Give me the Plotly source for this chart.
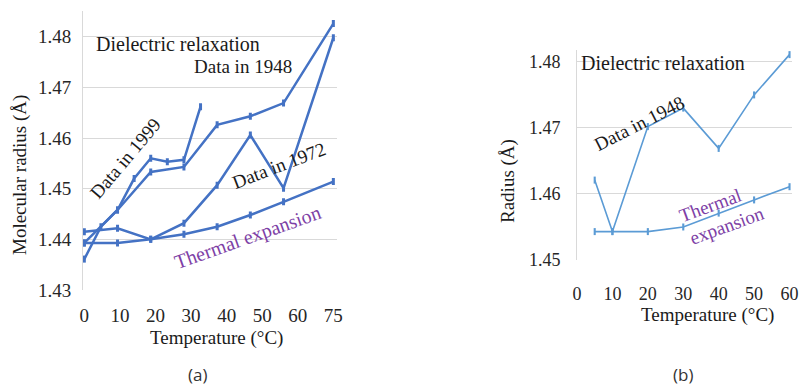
import plotly.graph_objects as go

# ---- Panel (a): molecular radius vs temperature ----
temp_a_labels = ["0", "10", "20", "30", "40", "50", "60", "75"]
t_1948_a = [0, 10, 20, 30, 40, 50, 60, 75]
r_1948_a = [1.4393, 1.4458, 1.4533, 1.4543, 1.4626, 1.4643, 1.4669, 1.4826]
t_1999_a = [0, 5, 10, 15, 20, 25, 30, 35]
r_1999_a = [1.4361, 1.4425, 1.4458, 1.4520, 1.4560, 1.4553, 1.4557, 1.4662]
t_1972_a = [0, 10, 20, 30, 40, 50, 60, 75]
r_1972_a = [1.4415, 1.4422, 1.4400, 1.4432, 1.4507, 1.4606, 1.4501, 1.4798]
t_therm_a = [0, 10, 20, 30, 40, 50, 60, 75]
r_therm_a = [1.4393, 1.4393, 1.4400, 1.4410, 1.4425, 1.4448, 1.4474, 1.4514]
y_ticks_a = [1.43, 1.44, 1.45, 1.46, 1.47, 1.48]

# ---- Panel (b): radius vs temperature ----
temp_b_ticks = [0, 10, 20, 30, 40, 50, 60]
t_1948_b = [5, 10, 20, 30, 40, 50, 60]
r_1948_b = [1.4621, 1.4543, 1.4702, 1.4730, 1.4669, 1.4750, 1.4811]
t_therm_b = [5, 10, 20, 30, 40, 50, 60]
r_therm_b = [1.4543, 1.4543, 1.4543, 1.4550, 1.4571, 1.4591, 1.4611]
y_ticks_b = [1.45, 1.46, 1.47, 1.48]

BLUE_A = "#4472C4"
BLUE_B = "#5B9BD5"
PURPLE = "#7E3FA6"
SERIF = "Liberation Serif"
GRID = "#D9D9D9"

fig = go.Figure()


def add_series(x, y, color, width, xa, ya):
    fig.add_trace(go.Scatter(
        x=x, y=y, mode="lines+markers", xaxis=xa, yaxis=ya,
        line=dict(color=color, width=width),
        marker=dict(symbol="line-ns", size=5,
                    line=dict(color=color, width=width + 0.5)),
        showlegend=False, hoverinfo="x+y",
    ))


for xs, ys in [(t_1948_a, r_1948_a), (t_1999_a, r_1999_a),
               (t_1972_a, r_1972_a), (t_therm_a, r_therm_a)]:
    add_series(xs, ys, BLUE_A, 2.5, "x", "y")

for xs, ys in [(t_1948_b, r_1948_b), (t_therm_b, r_therm_b)]:
    add_series(xs, ys, BLUE_B, 1.6, "x2", "y2")

# evenly spaced temperature labels along the (a) axis
n_a = len(temp_a_labels)
tickpos_a = [i * 75 / (n_a - 1) for i in range(n_a)]

W, H = 801, 387


def px(xp):
    return xp / W


def py(yp):
    return 1 - yp / H


tick_font_a = dict(family=SERIF, size=19, color="#262626")
tick_font_b = dict(family=SERIF, size=18, color="#262626")

fig.update_layout(
    width=W, height=H, autosize=False,
    margin=dict(l=0, r=0, t=0, b=0, pad=0),
    paper_bgcolor="white", plot_bgcolor="white",
    font=dict(family=SERIF),
    xaxis=dict(domain=[px(83), px(337)], range=[-0.4, 76.1],
               tickvals=tickpos_a, ticktext=temp_a_labels,
               showgrid=False, zeroline=False, showline=False,
               automargin=False,
               ticks="", ticklabelstandoff=12, tickfont=tick_font_a),
    yaxis=dict(domain=[py(290), py(11.4)], range=[1.43, 1.485],
               tickvals=y_ticks_a, tickformat=".2f",
               showgrid=True, gridcolor=GRID, gridwidth=1,
               zeroline=False, showline=True, linecolor=GRID,
               automargin=False,
               ticks="", ticklabelstandoff=7, tickfont=tick_font_a),
    xaxis2=dict(domain=[px(577), px(792)], range=[0, 60.7],
                tickvals=temp_b_ticks, anchor="y2",
                showgrid=False, zeroline=False, showline=False,
                automargin=False,
                ticks="", ticklabelstandoff=21, tickfont=tick_font_b),
    yaxis2=dict(domain=[py(260), py(50)], range=[1.45, 1.4818],
                tickvals=y_ticks_b, tickformat=".2f", anchor="x2",
                showgrid=True, gridcolor=GRID, gridwidth=1,
                zeroline=False, showline=True, linecolor=GRID,
                automargin=False,
                ticks="", ticklabelstandoff=12, tickfont=tick_font_b),
)


def note(text, xp, yp, size=19, color="#1a1a1a", angle=0, family=SERIF):
    fig.add_annotation(
        text=text, x=px(xp), y=py(yp), xref="paper", yref="paper",
        showarrow=False, textangle=angle, xanchor="center", yanchor="middle",
        borderpad=0, font=dict(family=family, size=size, color=color),
    )


# panel (a) labels
note("Dielectric relaxation", 178, 44, size=20)
note("Data in 1948", 243, 67, size=19)
note("Data in 1999", 125, 158, size=19, angle=-50)
note("Data in 1972", 279, 166, size=19, angle=-21)
note("Thermal expansion", 248, 238, size=20, color=PURPLE, angle=-19.5)
note("Molecular radius (Å)", 20, 175, size=19, angle=-90)
note("Temperature (°C)", 216, 338, size=19)
note("(a)", 197, 374, size=17, color="#333333", family="Open Sans")

# panel (b) labels
note("Dielectric relaxation", 663, 63, size=20)
note("Data in 1948", 639, 123, size=19, angle=-27)
note("Thermal", 710, 205, size=19, color=PURPLE, angle=-20)
note("expansion", 727, 225, size=19, color=PURPLE, angle=-20)
note("Radius (Å)", 508, 181, size=19, angle=-90)
note("Temperature (°C)", 707, 315, size=19)
note("(b)", 683, 374, size=17, color="#333333", family="Open Sans")

fig.write_html("out.html")
